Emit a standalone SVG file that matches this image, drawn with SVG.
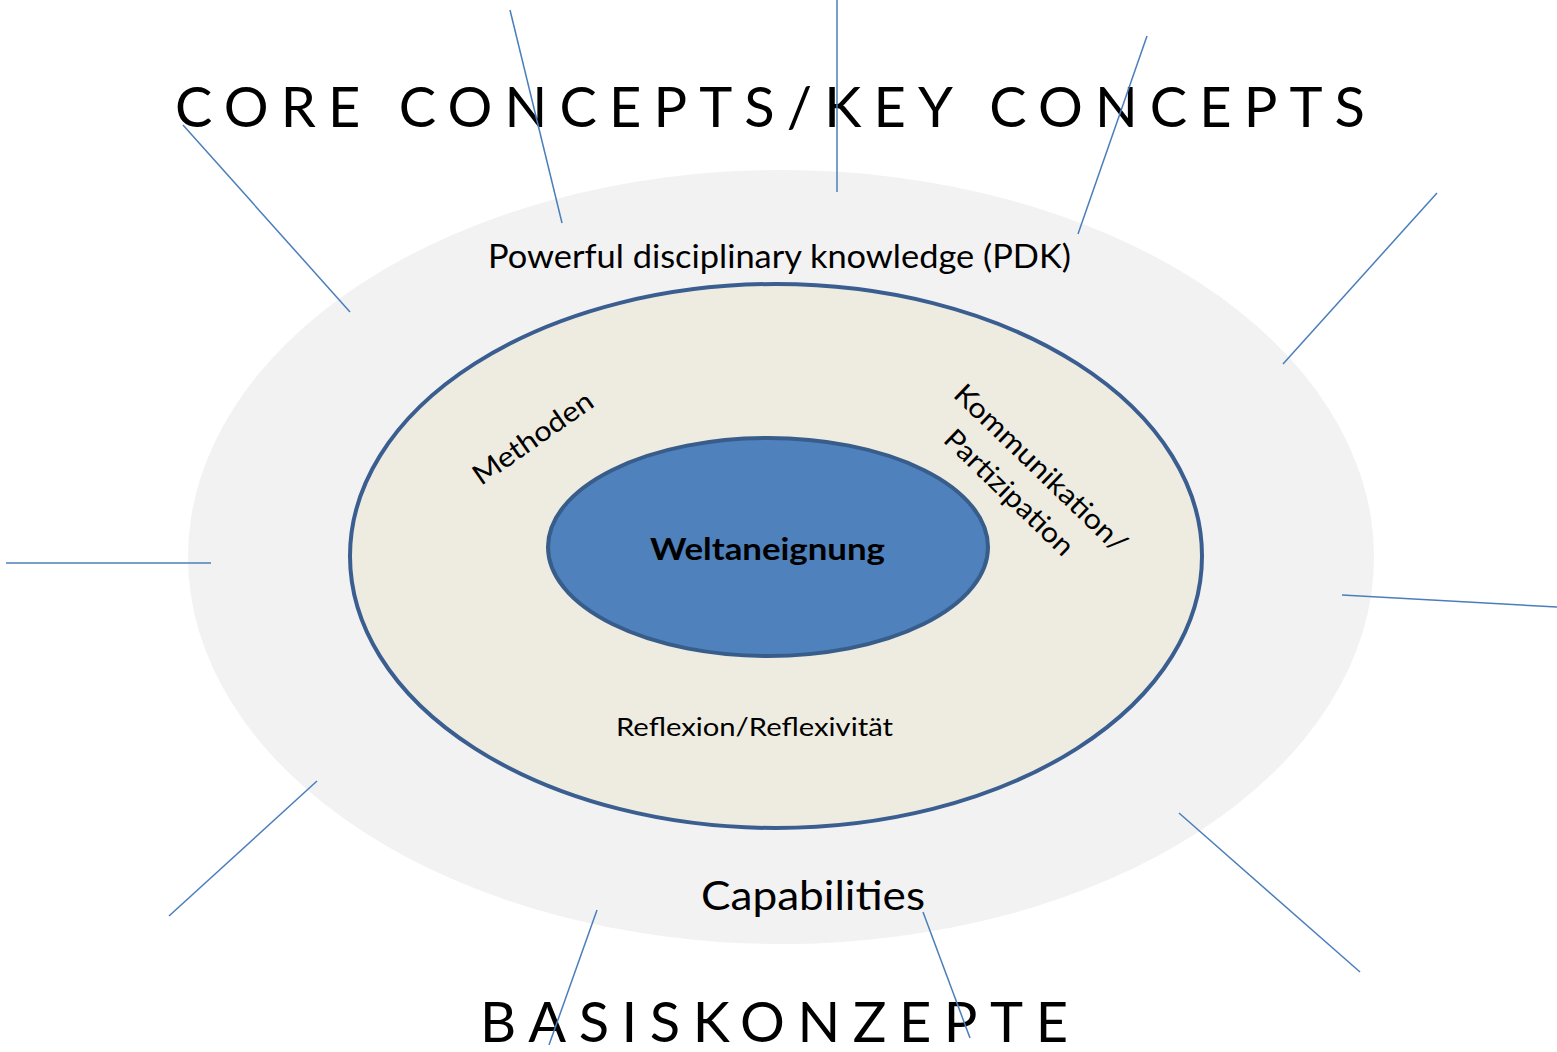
<svg xmlns="http://www.w3.org/2000/svg" width="1557" height="1052" viewBox="0 0 1557 1052">
<style>
  .t { font-family: Lato, "Open Sans", "Liberation Sans", sans-serif; fill: #000; }
  .big { font-size: 56px; }
  .rot { font-size: 28px; }
  .con { stroke: #4A7EBB; stroke-width: 1.5; fill: none; }
</style>
<rect width="1557" height="1052" fill="#fff"/>
<g id="outer">
  <ellipse cx="781" cy="557" rx="593" ry="387" fill="#F2F2F2"/>
  <text class="t" x="488" y="268" font-size="32" textLength="583" lengthAdjust="spacingAndGlyphs">Powerful disciplinary knowledge (PDK)</text>
  <text class="t" x="701" y="910" font-size="40" textLength="224" lengthAdjust="spacingAndGlyphs">Capabilities</text>
</g>
<g id="middle">
  <ellipse cx="776" cy="556" rx="426" ry="272" fill="#EEECE1" stroke="#3B5E91" stroke-width="4"/>
  <text class="t rot" transform="translate(481,486) rotate(-35)" textLength="140" lengthAdjust="spacingAndGlyphs">Methoden</text>
  <text class="t rot" transform="translate(952,396) rotate(44)" textLength="228" lengthAdjust="spacingAndGlyphs">Kommunikation/</text>
  <text class="t rot" transform="translate(942,441) rotate(44)" textLength="168" lengthAdjust="spacingAndGlyphs">Partizipation</text>
  <text class="t" x="616" y="736" font-size="25" textLength="277" lengthAdjust="spacingAndGlyphs">Reflexion/Reflexivität</text>
</g>
<g id="inner">
  <ellipse cx="768" cy="547" rx="220" ry="109" fill="#4F81BD" stroke="#385D8A" stroke-width="4"/>
  <text class="t" x="650" y="560" font-size="30" font-weight="bold" textLength="235" lengthAdjust="spacingAndGlyphs">Weltaneignung</text>
</g>
<g id="titles">
  <text class="t big" x="175" y="127" textLength="1190" lengthAdjust="spacing">CORE CONCEPTS/KEY CONCEPTS</text>
  <text class="t big" x="480" y="1042" textLength="588" lengthAdjust="spacing">BASISKONZEPTE</text>
</g>
<g id="connectors">
  <line class="con" x1="183" y1="125" x2="350" y2="312"/>
  <line class="con" x1="510" y1="10" x2="562" y2="223"/>
  <line class="con" x1="837" y1="0" x2="837" y2="192"/>
  <line class="con" x1="1147" y1="36" x2="1078" y2="234"/>
  <line class="con" x1="1437" y1="193" x2="1283" y2="364"/>
  <line class="con" x1="6" y1="563" x2="211" y2="563"/>
  <line class="con" x1="1342" y1="595" x2="1557" y2="607"/>
  <line class="con" x1="317" y1="781" x2="169" y2="916"/>
  <line class="con" x1="1179" y1="813" x2="1360" y2="972"/>
  <line class="con" x1="597" y1="910" x2="549" y2="1045"/>
  <line class="con" x1="923" y1="912" x2="970" y2="1038"/>
</g>
</svg>
